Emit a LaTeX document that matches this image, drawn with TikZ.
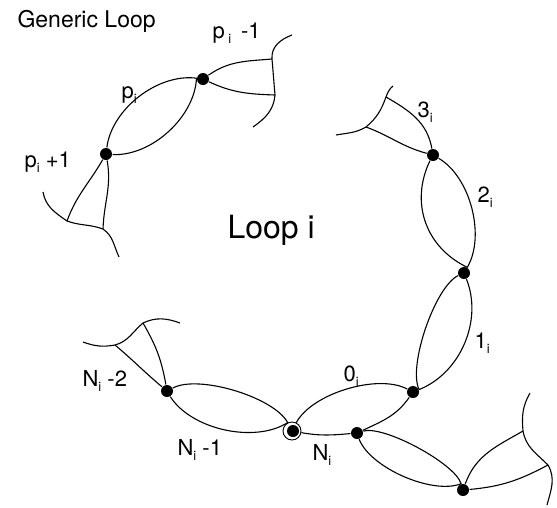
\documentclass[tikz,border=0pt]{standalone}
\usepackage{fontspec}
\setmainfont{TeX Gyre Heros}
\newcommand{\lo}[1]{\raisebox{-5pt}{\fontsize{13}{13}\selectfont #1}}

\begin{document}
\begin{tikzpicture}[x=1pt, y=-1pt, line width=1.1pt,
    dot/.style={circle, fill, inner sep=0pt, minimum size=12pt},
    ring/.style={circle, draw, fill=white, line width=0.9pt, inner sep=0pt, minimum size=18pt},
    lbl/.style={anchor=base west, inner sep=0pt, font=\fontsize{22}{22}\selectfont},
    title/.style={anchor=base west, inner sep=0pt, font=\fontsize{23}{23}\selectfont}]
    \useasboundingbox (0,0) rectangle (557,507);

    % vertices
    \node[dot] (a) at (203,79) {};
    \node[dot] (b) at (106,154) {};
    \node[dot] (c) at (433,155) {};
    \node[dot] (d) at (464,273) {};
    \node[dot] (e) at (413,392) {};
    \node[ring] (f) at (292,431) {};
    \node[dot] (fc) at (293,431) {};
    \node[dot] (g) at (357,433) {};
    \node[dot] (h) at (463,490) {};
    \node[dot] (i) at (167,391) {};

    % the loops of the chain (two sides each)
    \foreach \u/\v/\l/\m in {b/a/0.88/0.88, c/d/0.83/1.05, d/e/0.95/0.55,
                             i/f/0.62/0.83, g/h/0.49/0.71} {
        \draw (\u) to[bend left=45, looseness=\l] (\v)
                   to[bend left=45, looseness=\m] (\u);
    }
    \draw (f) to[bend left=45, looseness=0.73] (e);
    \draw (f) to[out=-10,in=185] (g) to[out=25,in=235] (e);

    % loose ends
    \coordinate (a0) at (292,35);  \coordinate (a1) at (272,59);
    \coordinate (a2) at (275,95);  \coordinate (a3) at (253,127);
    \draw (a) to[out=35,in=185] (a1);
    \draw (a) to[out=-25,in=178] (a2);
    \draw (a0) to[out=200,in=95] (a1) to[out=-85,in=95] (a2) to[out=-95,in=35] (a3);

    \coordinate (b0) at (43,192);  \coordinate (b1) at (67,221);
    \coordinate (b2) at (103,229); \coordinate (b3) at (119,257);
    \draw (b) to[out=240,in=70] (b1);
    \draw (b) to[out=-80,in=88] (b2);
    \draw (b0) to[out=-80,in=145] (b1) to[out=-20,in=160] (b2) to[out=-35,in=115] (b3);

    \coordinate (c0) at (336,135); \coordinate (c1) at (366,127);
    \coordinate (c2) at (386,97);  \coordinate (c3) at (393,86);
    \draw (c) to[out=165,in=-20] (c1);
    \draw (c) to[out=100,in=-30] (c2);
    \draw (c0) to[out=10,in=210] (c1) to[out=40,in=-110] (c2) to[out=70,in=220] (c3);

    \coordinate (i0) at (83,342);  \coordinate (i1) at (115,345);
    \coordinate (i2) at (143,323); \coordinate (i3) at (180,323);
    \draw (i) to[out=140,in=-40] (i1);
    \draw (i) to[out=100,in=-60] (i2);
    \draw (i0) to[out=-20,in=190] (i1) to[out=15,in=220] (i2) to[out=25,in=160] (i3);

    \coordinate (h0) at (530,393); \coordinate (h1) at (523,431);
    \coordinate (h2) at (548,465); \coordinate (h3) at (547,505);
    \draw (h) to[out=70,in=210] (h1);
    \draw (h) to[out=5,in=208] (h2);
    \draw (h0) to[out=240,in=95] (h1) to[out=-80,in=135] (h2) to[out=-60,in=75] (h3);

    % labels
    \node[title] (gen) at (17,27) {Generic Loop};
    \node[lbl, font=\fontsize{32}{32}\selectfont] (loop) at (227,238) {Loop i};
    \node[lbl] (lpm) at (212,38) {p\,\lo{i}\, -1};
    \node[lbl] (lp) at (121,98) {p\lo{i}};
    \node[lbl] (lpp) at (24,167) {p\lo{i} +1};
    \node[lbl] (l3) at (417,117) {3\lo{i}};
    \node[lbl] (l2) at (477,202) {2\lo{i}};
    \node[lbl] (l1) at (474,348) {1\lo{i}};
    \node[lbl] (l0) at (343,381) {0\lo{i}};
    \node[lbl] (lN) at (312,460) {N\lo{i}};
    \node[lbl] (lN1) at (177,455) {N\lo{i} -1};
    \node[lbl] (lN2) at (82,386) {N\lo{i} -2};
\end{tikzpicture}
\end{document}
